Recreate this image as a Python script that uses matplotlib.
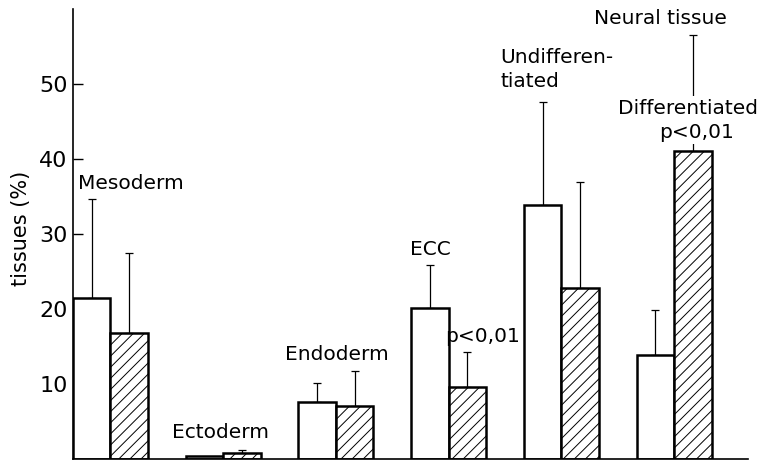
import numpy as np
import matplotlib
matplotlib.use('Agg')
import matplotlib.pyplot as plt

# tissue groups, control (open) vs treated (hatched), mean and upper SD
groups = ['Mesoderm', 'Ectoderm', 'Endoderm', 'ECC', 'Undifferentiated', 'Differentiated']
open_vals = [21.5, 0.4, 7.6, 20.1, 33.9, 13.9]
open_err = [13.2, np.nan, 2.6, 5.8, 13.7, 6.0]
hatch_vals = [16.8, 0.8, 7.1, 9.6, 22.8, 41.0]
hatch_err = [10.7, 0.4, 4.7, 4.7, 14.1, 15.5]
yticks = [10, 20, 30, 40, 50]

plt.rcParams['font.family'] = ['DejaVu Sans']
plt.rcParams['hatch.linewidth'] = 0.7

fig = plt.figure(figsize=(7.61, 4.65), dpi=100)
ax = fig.add_axes([73 / 761, 6 / 465, 675 / 761, 450 / 465])

w = 0.3325
x = np.arange(len(groups))
ax.bar(x - w / 2, open_vals, width=w, facecolor='white', edgecolor='black', linewidth=1.8, zorder=2)
ax.bar(x + w / 2, hatch_vals, width=w, facecolor='white', edgecolor='black', linewidth=1.8,
       hatch='///', zorder=2)

# upward error bars only
for xs, vals, errs in [(x - w / 2, open_vals, open_err), (x + w / 2, hatch_vals, hatch_err)]:
    for xi, v, e in zip(xs, vals, errs):
        if np.isnan(e):
            continue
        ax.errorbar([xi], [v], yerr=[[0], [e]], fmt='none', ecolor='black',
                    elinewidth=0.9, capsize=3, capthick=0.9, zorder=1)

ax.set_xlim(-w, 5.656)
ax.set_ylim(0, 60)
ax.set_yticks(yticks)
ax.set_xticks([])
ax.tick_params(axis='y', direction='in', length=7, width=1, pad=4, labelsize=16)
for s in ['top', 'right']:
    ax.spines[s].set_visible(False)
for s in ['left', 'bottom']:
    ax.spines[s].set_linewidth(1.2)

fig.text(21 / 761, 1 - 228 / 465, 'tissues (%)', rotation=90, ha='center', va='center', fontsize=15)

fs = 14.5
bg = dict(facecolor='white', edgecolor='none', pad=2)
ax.text(-0.29, 36.8, 'Mesoderm', ha='left', va='center', fontsize=fs)
ax.text(0.975, 3.5, 'Ectoderm', ha='center', va='center', fontsize=fs)
ax.text(2.01, 13.9, 'Endoderm', ha='center', va='center', fontsize=fs)
ax.text(2.84, 27.9, 'ECC', ha='center', va='center', fontsize=fs)
ax.text(3.30, 16.3, 'p<0,01', ha='center', va='center', fontsize=fs)
ax.text(3.46, 53.5, 'Undifferen-', ha='left', va='center', fontsize=fs)
ax.text(3.46, 50.3, 'tiated', ha='left', va='center', fontsize=fs)
ax.text(4.88, 58.8, 'Neural tissue', ha='center', va='center', fontsize=fs, clip_on=False)
ax.text(5.12, 46.8, 'Differentiated', ha='center', va='center', fontsize=fs, bbox=bg, zorder=3)
ax.text(5.20, 43.6, 'p<0,01', ha='center', va='center', fontsize=fs, bbox=bg, zorder=3)

fig.savefig('out.png', dpi=100)
